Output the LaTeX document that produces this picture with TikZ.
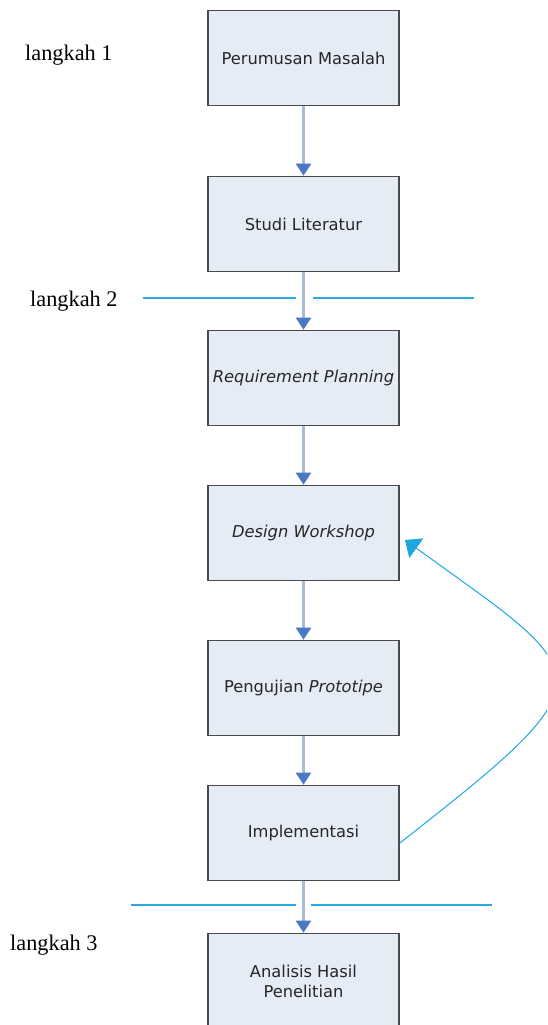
\documentclass[tikz,border=0pt]{standalone}
\usepackage{fontspec}
\setmainfont{Liberation Serif}
\newfontfamily\boxfont{DejaVu Sans}
\usetikzlibrary{arrows.meta}
\definecolor{boxfill}{HTML}{E6ECF6}
\definecolor{boxdraw}{HTML}{4A4A4A}
\definecolor{flowline}{HTML}{A9BDD8}
\definecolor{flowhead}{HTML}{4A78C2}
\definecolor{sepline}{HTML}{2AAAE2}
\definecolor{loopline}{HTML}{1FA6E0}
\begin{document}
\begin{tikzpicture}[x=1pt,y=-1pt,
  stepbox/.style={draw=boxdraw,line width=1.6pt,fill=boxfill,minimum width=191pt,minimum height=95pt,
    inner sep=0pt,align=center,font=\boxfont\fontsize{16.3}{20}\selectfont,text=black!85},
  flow/.style={draw=flowline,line width=2.2pt,-{Triangle[length=12pt,width=15pt,color=flowhead]}},
  sep/.style={draw=sepline,line width=1.3pt},
  steplabel/.style={anchor=west,inner sep=0pt,font=\fontsize{22.3}{24}\selectfont},
  loop/.style={draw=loopline,line width=1pt,-{Triangle[length=14pt,width=24pt,color=loopline]}}]
\useasboundingbox (0,0) rectangle (547,1025);
\clip (0,0) rectangle (547,1025);
\node[stepbox] (s1) at (303.5,58) {Perumusan Masalah};
\node[stepbox] (s2) at (303.5,224) {Studi Literatur};
\node[stepbox] (s3) at (303.5,378) {\itshape Requirement Planning};
\node[stepbox] (s4) at (303.5,533) {\itshape Design Workshop};
\node[stepbox] (s5) at (303.5,688) {Pengujian \itshape Prototipe};
\node[stepbox] (s6) at (303.5,833) {Implementasi};
\node[stepbox] (s7) at (303.5,981) {Analisis Hasil\\Penelitian};
\draw[flow] (s1) -- (s2);
\draw[flow] (s2) -- (s3);
\draw[flow] (s3) -- (s4);
\draw[flow] (s4) -- (s5);
\draw[flow] (s5) -- (s6);
\draw[flow] (s6) -- (s7);
\coordinate (a1) at (143,298); \coordinate (a2) at (296,298);
\coordinate (a3) at (313,298); \coordinate (a4) at (474,298);
\coordinate (b1) at (131,905); \coordinate (b2) at (296,905);
\coordinate (b3) at (311,905); \coordinate (b4) at (492,905);
\draw[sep] (a1) -- (a2); \draw[sep] (a3) -- (a4);
\draw[sep] (b1) -- (b2); \draw[sep] (b3) -- (b4);
\node[steplabel] (l1) at (25,55) {langkah 1};
\node[steplabel] (l2) at (30,301) {langkah 2};
\node[steplabel] (l3) at (10,945) {langkah 3};
\coordinate (tip) at (405,540);
\draw[loop] (s6.east |- 0,843) .. controls (616,674) and (596,678) .. (tip);
\end{tikzpicture}
\end{document}
